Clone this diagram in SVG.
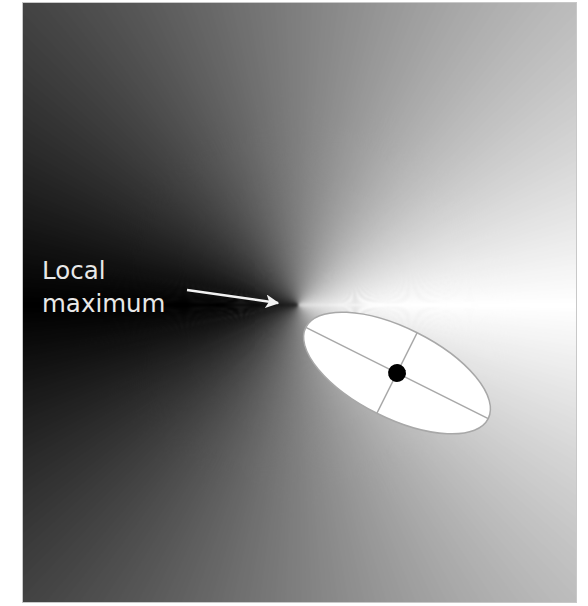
<svg xmlns="http://www.w3.org/2000/svg" width="588" height="606" viewBox="0 0 588 606">
<style>
.lbl{font-family:"DejaVu Sans","Liberation Sans",sans-serif;font-size:24.5px;fill:#e8e8e8}
.ax{stroke:#a8a8a8;stroke-width:1.5;fill:none}
.arr{stroke:#f2f2f2;stroke-width:2.5;fill:none}
</style>
<defs>
<clipPath id="clip"><rect x="22" y="2" width="555" height="601"/></clipPath>
<filter id="soft" x="-10%" y="-10%" width="120%" height="120%" color-interpolation-filters="sRGB"><feGaussianBlur stdDeviation="1"/></filter>
<path id="w" d="M0 0L450-4.8L450 4.8Z"/>
<marker id="ah" viewBox="0 0 10 10" refX="9" refY="5" markerWidth="5.5" markerHeight="5.5" markerUnits="strokeWidth" orient="auto">
<path d="M0 0L10 5L0 10L2.5 5Z" fill="#f2f2f2"/>
</marker>
</defs>
<rect width="588" height="606" fill="#fff"/>
<g id="background" clip-path="url(#clip)">
<rect x="22" y="2" width="555" height="601" fill="#808080"/>
<g transform="translate(298 305)" filter="url(#soft)">
<g id="half">
<use href="#w" transform="rotate(0)" fill="#ffffff"/>
<use href="#w" transform="rotate(1)" fill="#fefefe"/>
<use href="#w" transform="rotate(2)" fill="#fcfcfc"/>
<use href="#w" transform="rotate(3)" fill="#fbfbfb"/>
<use href="#w" transform="rotate(4)" fill="#f9f9f9"/>
<use href="#w" transform="rotate(5)" fill="#f8f8f8"/>
<use href="#w" transform="rotate(6)" fill="#f6f6f6"/>
<use href="#w" transform="rotate(7)" fill="#f5f5f5"/>
<use href="#w" transform="rotate(8)" fill="#f4f4f4"/>
<use href="#w" transform="rotate(9)" fill="#f2f2f2"/>
<use href="#w" transform="rotate(10)" fill="#f1f1f1"/>
<use href="#w" transform="rotate(11)" fill="#efefef"/>
<use href="#w" transform="rotate(12)" fill="#eeeeee"/>
<use href="#w" transform="rotate(13)" fill="#ededed"/>
<use href="#w" transform="rotate(14)" fill="#ebebeb"/>
<use href="#w" transform="rotate(15)" fill="#eaeaea"/>
<use href="#w" transform="rotate(16)" fill="#e8e8e8"/>
<use href="#w" transform="rotate(17)" fill="#e7e7e7"/>
<use href="#w" transform="rotate(18)" fill="#e5e5e5"/>
<use href="#w" transform="rotate(19)" fill="#e4e4e4"/>
<use href="#w" transform="rotate(20)" fill="#e3e3e3"/>
<use href="#w" transform="rotate(21)" fill="#e1e1e1"/>
<use href="#w" transform="rotate(22)" fill="#e0e0e0"/>
<use href="#w" transform="rotate(23)" fill="#dedede"/>
<use href="#w" transform="rotate(24)" fill="#dddddd"/>
<use href="#w" transform="rotate(25)" fill="#dcdcdc"/>
<use href="#w" transform="rotate(26)" fill="#dadada"/>
<use href="#w" transform="rotate(27)" fill="#d9d9d9"/>
<use href="#w" transform="rotate(28)" fill="#d7d7d7"/>
<use href="#w" transform="rotate(29)" fill="#d6d6d6"/>
<use href="#w" transform="rotate(30)" fill="#d4d4d4"/>
<use href="#w" transform="rotate(31)" fill="#d3d3d3"/>
<use href="#w" transform="rotate(32)" fill="#d2d2d2"/>
<use href="#w" transform="rotate(33)" fill="#d0d0d0"/>
<use href="#w" transform="rotate(34)" fill="#cfcfcf"/>
<use href="#w" transform="rotate(35)" fill="#cdcdcd"/>
<use href="#w" transform="rotate(36)" fill="#cccccc"/>
<use href="#w" transform="rotate(37)" fill="#cbcbcb"/>
<use href="#w" transform="rotate(38)" fill="#c9c9c9"/>
<use href="#w" transform="rotate(39)" fill="#c8c8c8"/>
<use href="#w" transform="rotate(40)" fill="#c6c6c6"/>
<use href="#w" transform="rotate(41)" fill="#c5c5c5"/>
<use href="#w" transform="rotate(42)" fill="#c3c3c3"/>
<use href="#w" transform="rotate(43)" fill="#c2c2c2"/>
<use href="#w" transform="rotate(44)" fill="#c1c1c1"/>
<use href="#w" transform="rotate(45)" fill="#bfbfbf"/>
<use href="#w" transform="rotate(46)" fill="#bebebe"/>
<use href="#w" transform="rotate(47)" fill="#bcbcbc"/>
<use href="#w" transform="rotate(48)" fill="#bbbbbb"/>
<use href="#w" transform="rotate(49)" fill="#bababa"/>
<use href="#w" transform="rotate(50)" fill="#b8b8b8"/>
<use href="#w" transform="rotate(51)" fill="#b7b7b7"/>
<use href="#w" transform="rotate(52)" fill="#b5b5b5"/>
<use href="#w" transform="rotate(53)" fill="#b4b4b4"/>
<use href="#w" transform="rotate(54)" fill="#b2b2b2"/>
<use href="#w" transform="rotate(55)" fill="#b1b1b1"/>
<use href="#w" transform="rotate(56)" fill="#b0b0b0"/>
<use href="#w" transform="rotate(57)" fill="#aeaeae"/>
<use href="#w" transform="rotate(58)" fill="#adadad"/>
<use href="#w" transform="rotate(59)" fill="#ababab"/>
<use href="#w" transform="rotate(60)" fill="#aaaaaa"/>
<use href="#w" transform="rotate(61)" fill="#a9a9a9"/>
<use href="#w" transform="rotate(62)" fill="#a7a7a7"/>
<use href="#w" transform="rotate(63)" fill="#a6a6a6"/>
<use href="#w" transform="rotate(64)" fill="#a4a4a4"/>
<use href="#w" transform="rotate(65)" fill="#a3a3a3"/>
<use href="#w" transform="rotate(66)" fill="#a1a1a1"/>
<use href="#w" transform="rotate(67)" fill="#a0a0a0"/>
<use href="#w" transform="rotate(68)" fill="#9f9f9f"/>
<use href="#w" transform="rotate(69)" fill="#9d9d9d"/>
<use href="#w" transform="rotate(70)" fill="#9c9c9c"/>
<use href="#w" transform="rotate(71)" fill="#9a9a9a"/>
<use href="#w" transform="rotate(72)" fill="#999999"/>
<use href="#w" transform="rotate(73)" fill="#989898"/>
<use href="#w" transform="rotate(74)" fill="#969696"/>
<use href="#w" transform="rotate(75)" fill="#959595"/>
<use href="#w" transform="rotate(76)" fill="#939393"/>
<use href="#w" transform="rotate(77)" fill="#929292"/>
<use href="#w" transform="rotate(78)" fill="#909090"/>
<use href="#w" transform="rotate(79)" fill="#8f8f8f"/>
<use href="#w" transform="rotate(80)" fill="#8e8e8e"/>
<use href="#w" transform="rotate(81)" fill="#8c8c8c"/>
<use href="#w" transform="rotate(82)" fill="#8b8b8b"/>
<use href="#w" transform="rotate(83)" fill="#898989"/>
<use href="#w" transform="rotate(84)" fill="#888888"/>
<use href="#w" transform="rotate(85)" fill="#878787"/>
<use href="#w" transform="rotate(86)" fill="#858585"/>
<use href="#w" transform="rotate(87)" fill="#848484"/>
<use href="#w" transform="rotate(88)" fill="#828282"/>
<use href="#w" transform="rotate(89)" fill="#818181"/>
<use href="#w" transform="rotate(90)" fill="#7f7f7f"/>
<use href="#w" transform="rotate(91)" fill="#7e7e7e"/>
<use href="#w" transform="rotate(92)" fill="#7d7d7d"/>
<use href="#w" transform="rotate(93)" fill="#7b7b7b"/>
<use href="#w" transform="rotate(94)" fill="#7a7a7a"/>
<use href="#w" transform="rotate(95)" fill="#787878"/>
<use href="#w" transform="rotate(96)" fill="#777777"/>
<use href="#w" transform="rotate(97)" fill="#767676"/>
<use href="#w" transform="rotate(98)" fill="#747474"/>
<use href="#w" transform="rotate(99)" fill="#737373"/>
<use href="#w" transform="rotate(100)" fill="#717171"/>
<use href="#w" transform="rotate(101)" fill="#707070"/>
<use href="#w" transform="rotate(102)" fill="#6f6f6f"/>
<use href="#w" transform="rotate(103)" fill="#6d6d6d"/>
<use href="#w" transform="rotate(104)" fill="#6c6c6c"/>
<use href="#w" transform="rotate(105)" fill="#6a6a6a"/>
<use href="#w" transform="rotate(106)" fill="#696969"/>
<use href="#w" transform="rotate(107)" fill="#676767"/>
<use href="#w" transform="rotate(108)" fill="#666666"/>
<use href="#w" transform="rotate(109)" fill="#656565"/>
<use href="#w" transform="rotate(110)" fill="#636363"/>
<use href="#w" transform="rotate(111)" fill="#626262"/>
<use href="#w" transform="rotate(112)" fill="#606060"/>
<use href="#w" transform="rotate(113)" fill="#5f5f5f"/>
<use href="#w" transform="rotate(114)" fill="#5e5e5e"/>
<use href="#w" transform="rotate(115)" fill="#5c5c5c"/>
<use href="#w" transform="rotate(116)" fill="#5b5b5b"/>
<use href="#w" transform="rotate(117)" fill="#595959"/>
<use href="#w" transform="rotate(118)" fill="#585858"/>
<use href="#w" transform="rotate(119)" fill="#565656"/>
<use href="#w" transform="rotate(120)" fill="#555555"/>
<use href="#w" transform="rotate(121)" fill="#545454"/>
<use href="#w" transform="rotate(122)" fill="#525252"/>
<use href="#w" transform="rotate(123)" fill="#515151"/>
<use href="#w" transform="rotate(124)" fill="#4f4f4f"/>
<use href="#w" transform="rotate(125)" fill="#4e4e4e"/>
<use href="#w" transform="rotate(126)" fill="#4d4d4d"/>
<use href="#w" transform="rotate(127)" fill="#4b4b4b"/>
<use href="#w" transform="rotate(128)" fill="#4a4a4a"/>
<use href="#w" transform="rotate(129)" fill="#484848"/>
<use href="#w" transform="rotate(130)" fill="#474747"/>
<use href="#w" transform="rotate(131)" fill="#454545"/>
<use href="#w" transform="rotate(132)" fill="#444444"/>
<use href="#w" transform="rotate(133)" fill="#434343"/>
<use href="#w" transform="rotate(134)" fill="#414141"/>
<use href="#w" transform="rotate(135)" fill="#404040"/>
<use href="#w" transform="rotate(136)" fill="#3e3e3e"/>
<use href="#w" transform="rotate(137)" fill="#3d3d3d"/>
<use href="#w" transform="rotate(138)" fill="#3c3c3c"/>
<use href="#w" transform="rotate(139)" fill="#3a3a3a"/>
<use href="#w" transform="rotate(140)" fill="#393939"/>
<use href="#w" transform="rotate(141)" fill="#373737"/>
<use href="#w" transform="rotate(142)" fill="#363636"/>
<use href="#w" transform="rotate(143)" fill="#343434"/>
<use href="#w" transform="rotate(144)" fill="#333333"/>
<use href="#w" transform="rotate(145)" fill="#323232"/>
<use href="#w" transform="rotate(146)" fill="#303030"/>
<use href="#w" transform="rotate(147)" fill="#2f2f2f"/>
<use href="#w" transform="rotate(148)" fill="#2d2d2d"/>
<use href="#w" transform="rotate(149)" fill="#2c2c2c"/>
<use href="#w" transform="rotate(150)" fill="#2b2b2b"/>
<use href="#w" transform="rotate(151)" fill="#292929"/>
<use href="#w" transform="rotate(152)" fill="#282828"/>
<use href="#w" transform="rotate(153)" fill="#262626"/>
<use href="#w" transform="rotate(154)" fill="#252525"/>
<use href="#w" transform="rotate(155)" fill="#232323"/>
<use href="#w" transform="rotate(156)" fill="#222222"/>
<use href="#w" transform="rotate(157)" fill="#212121"/>
<use href="#w" transform="rotate(158)" fill="#1f1f1f"/>
<use href="#w" transform="rotate(159)" fill="#1e1e1e"/>
<use href="#w" transform="rotate(160)" fill="#1c1c1c"/>
<use href="#w" transform="rotate(161)" fill="#1b1b1b"/>
<use href="#w" transform="rotate(162)" fill="#1a1a1a"/>
<use href="#w" transform="rotate(163)" fill="#181818"/>
<use href="#w" transform="rotate(164)" fill="#171717"/>
<use href="#w" transform="rotate(165)" fill="#151515"/>
<use href="#w" transform="rotate(166)" fill="#141414"/>
<use href="#w" transform="rotate(167)" fill="#121212"/>
<use href="#w" transform="rotate(168)" fill="#111111"/>
<use href="#w" transform="rotate(169)" fill="#101010"/>
<use href="#w" transform="rotate(170)" fill="#0e0e0e"/>
<use href="#w" transform="rotate(171)" fill="#0d0d0d"/>
<use href="#w" transform="rotate(172)" fill="#0b0b0b"/>
<use href="#w" transform="rotate(173)" fill="#0a0a0a"/>
<use href="#w" transform="rotate(174)" fill="#090909"/>
<use href="#w" transform="rotate(175)" fill="#070707"/>
<use href="#w" transform="rotate(176)" fill="#060606"/>
<use href="#w" transform="rotate(177)" fill="#040404"/>
<use href="#w" transform="rotate(178)" fill="#030303"/>
<use href="#w" transform="rotate(179)" fill="#010101"/>
<use href="#w" transform="rotate(180)" fill="#000000"/>
</g>
<use href="#half" transform="scale(1 -1)"/>
</g>
</g>
<rect x="22.5" y="2.5" width="554" height="600" fill="none" stroke="#c8c8c8" stroke-width="1"/>
<g id="label">
<text class="lbl" x="42" y="279">Local</text>
<text class="lbl" x="42" y="312">maximum</text>
</g>
<g id="ellipse" transform="translate(397 373) rotate(26.57)">
<ellipse cx="0" cy="0" rx="102" ry="45" fill="#ffffff" stroke="#a8a8a8" stroke-width="1.5"/>
<line class="ax" x1="-102" y1="0" x2="102" y2="0"/>
<line class="ax" x1="0" y1="-45" x2="0" y2="45"/>
<circle cx="0" cy="0" r="9" fill="#000"/>
</g>
<g id="connectors">
<line class="arr" x1="187" y1="290" x2="278" y2="303" marker-end="url(#ah)"/>
</g>
</svg>
